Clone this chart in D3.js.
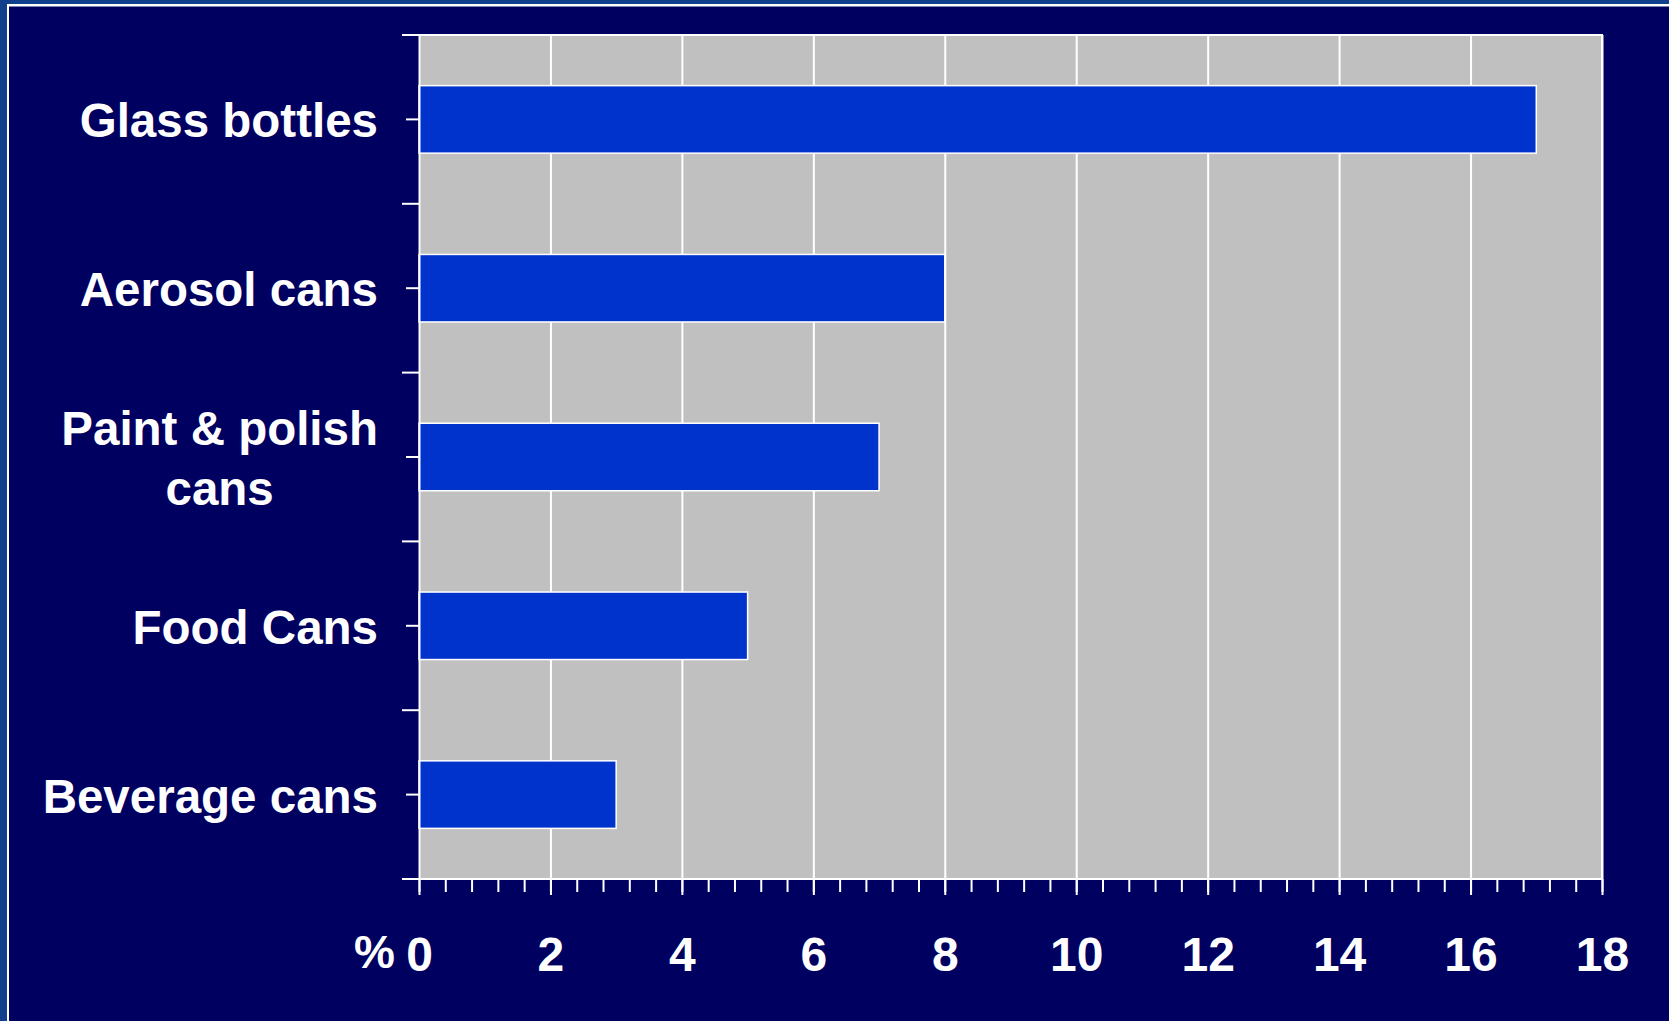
<!DOCTYPE html>
<html>
<head>
<meta charset="utf-8">
<script src="https://cdn.jsdelivr.net/npm/d3@7"></script>
<style>
  html, body { margin: 0; padding: 0; background: #000060; }
  svg { display: block; }
  text { font-family: "Liberation Sans", Arial, sans-serif; font-weight: bold; fill: #ffffff; }
</style>
</head>
<body>
<svg id="chart" width="1669" height="1021"></svg>
<script>
// Share of containers by type (%)
const categories = ["Glass bottles", "Aerosol cans", "Paint & polish cans", "Food Cans", "Beverage cans"];
const labelLines = [["Glass bottles"], ["Aerosol cans"], ["Paint & polish", "cans"], ["Food Cans"], ["Beverage cans"]];
const values = [17, 8, 7, 5, 3];
const xTicks = [0, 2, 4, 6, 8, 10, 12, 14, 16, 18];
const xMinorTicks = d3.range(0, 46).map(i => i * 0.4);
const unitLabel = "%";

const W = 1669, H = 1021;
const plot = { left: 419, right: 1602, top: 35, bottom: 879 };
const pw = plot.right - plot.left, ph = plot.bottom - plot.top;

const svg = d3.select("#chart");

// Slide frame: blue strip with a thin white rule along top and left
svg.append("rect").attr("width", W).attr("height", H).attr("fill", "#000060");
svg.append("rect").attr("x", 0).attr("y", 0).attr("width", W).attr("height", 4).attr("fill", "#103f8c");
svg.append("rect").attr("x", 0).attr("y", 0).attr("width", 7).attr("height", H).attr("fill", "#103f8c");
svg.append("rect").attr("x", 7).attr("y", 4).attr("width", W - 7).attr("height", 2.5).attr("fill", "#ffffff");
svg.append("rect").attr("x", 7).attr("y", 4).attr("width", 2).attr("height", H - 4).attr("fill", "#ffffff");

const x = d3.scaleLinear().domain([0, 18]).range([0, pw]);
const y = d3.scaleBand().domain(categories).range([0, ph]).paddingInner(0.6).paddingOuter(0.3);

const g = svg.append("g").attr("transform", `translate(${plot.left},${plot.top})`);

// Plot area
g.append("rect").attr("width", pw).attr("height", ph).attr("fill", "#c0c0c0");

// Vertical gridlines
g.append("g")
  .attr("transform", `translate(0,${ph})`)
  .call(d3.axisBottom(x).tickValues(xTicks.slice(1)).tickSize(-ph).tickFormat(""))
  .call(s => s.select(".domain").remove())
  .call(s => s.selectAll("line").attr("stroke", "#ffffff").attr("stroke-width", 2));

// Bars
g.append("g").selectAll("rect").data(values).join("rect")
  .attr("x", 0)
  .attr("y", (d, i) => y(categories[i]))
  .attr("width", d => x(d))
  .attr("height", y.bandwidth())
  .attr("fill", "#0033cc")
  .attr("stroke", "#ffffff")
  .attr("stroke-width", 1.5);

// Top and right plot border
g.append("path")
  .attr("d", `M${-17},0H${pw}V${ph}`)
  .attr("fill", "none").attr("stroke", "#ffffff").attr("stroke-width", 2);

// X axis: minor and major ticks
g.append("g")
  .attr("transform", `translate(0,${ph})`)
  .call(d3.axisBottom(x).tickValues(xMinorTicks).tickSize(13).tickFormat(""))
  .call(s => s.select(".domain").remove())
  .call(s => s.selectAll("line").attr("stroke", "#ffffff").attr("stroke-width", 2));

const xAxis = g.append("g")
  .attr("transform", `translate(0,${ph})`)
  .call(d3.axisBottom(x).tickValues(xTicks).tickSize(16).tickSizeOuter(0).tickFormat(d3.format("d")))
  .call(s => s.select(".domain").remove())
  .call(s => s.selectAll("line").attr("stroke", "#ffffff").attr("stroke-width", 2));
xAxis.selectAll("text")
  .attr("y", 92).attr("dy", null)
  .attr("fill", "#ffffff")
  .style("font-size", "48px");

// Baseline extended to the left boundary tick
g.append("line")
  .attr("x1", -17).attr("x2", pw).attr("y1", ph).attr("y2", ph)
  .attr("stroke", "#ffffff").attr("stroke-width", 2);

// Unit label next to zero
g.append("text")
  .attr("x", -24).attr("y", ph + 89)
  .attr("text-anchor", "end")
  .style("font-size", "46px")
  .text(unitLabel);

// Y axis: ticks at category centres
g.append("g")
  .call(d3.axisLeft(y).tickSize(13).tickSizeOuter(0).tickFormat(""))
  .call(s => s.select(".domain").attr("stroke", "#ffffff").attr("stroke-width", 2))
  .call(s => s.selectAll("line").attr("stroke", "#ffffff").attr("stroke-width", 2));

// Y axis: longer ticks at category boundaries
const bounds = d3.range(categories.length + 1).map(i => i * y.step());
g.append("g").selectAll("line").data(bounds).join("line")
  .attr("x1", -17).attr("x2", 0)
  .attr("y1", d => d).attr("y2", d => d)
  .attr("stroke", "#ffffff").attr("stroke-width", 2);

// Category labels, right aligned block with centred lines
const labelRight = -41;
const lineH = 60;
labelLines.forEach((lines, i) => {
  const cy = y(categories[i]) + y.bandwidth() / 2;
  const t = g.append("text")
    .attr("text-anchor", "middle")
    .style("font-size", "47.5px");
  const first = cy + 18 - (lines.length - 1) * lineH / 2;
  const spans = lines.map((ln, j) => t.append("tspan").attr("y", first + j * lineH).text(ln));
  const maxW = d3.max(spans, s => s.node().getComputedTextLength());
  spans.forEach(s => s.attr("x", labelRight - maxW / 2));
});
</script>
</body>
</html>
